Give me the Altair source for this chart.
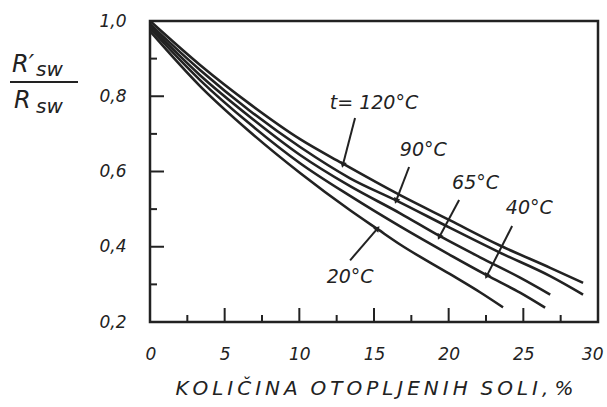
import altair as alt
import pandas as pd
import math

# Resistivity ratio R'sw / Rsw versus dissolved salt content, one curve per temperature
x_120 = [0, 3.35, 6.7, 10.05, 12.86, 16.75, 20.1, 23.4, 26.8, 29.0]
y_120 = [1.0, 0.883, 0.779, 0.686, 0.622, 0.537, 0.470, 0.404, 0.344, 0.304]

x_90 = [0, 3.35, 6.7, 10.05, 13.4, 16.54, 20.1, 23.4, 26.8, 29.0]
y_90 = [0.992, 0.870, 0.761, 0.665, 0.582, 0.522, 0.450, 0.385, 0.322, 0.273]

x_65 = [0, 3.35, 6.7, 10.05, 13.4, 16.75, 19.42, 22.1, 24.78, 26.8]
y_65 = [0.987, 0.856, 0.745, 0.644, 0.561, 0.489, 0.428, 0.372, 0.318, 0.273]

x_40 = [0, 3.35, 6.7, 10.05, 13.4, 16.75, 20.1, 22.57, 24.78, 26.46]
y_40 = [0.981, 0.843, 0.726, 0.622, 0.535, 0.454, 0.378, 0.324, 0.278, 0.238]

x_20 = [0, 3.35, 6.7, 10.05, 13.4, 15.27, 16.75, 20.1, 22.1, 23.64]
y_20 = [0.973, 0.827, 0.705, 0.596, 0.497, 0.446, 0.406, 0.327, 0.279, 0.239]

curve_names = ["120", "90", "65", "40", "20"]
curve_x = [x_120, x_90, x_65, x_40, x_20]
curve_y = [y_120, y_90, y_65, y_40, y_20]

# Curve labels and their leader lines (start -> tip on the curve)
label_text = ["t= 120°C", "90°C", "65°C", "40°C", "20°C"]
label_x = [15.0, 18.3, 21.8, 25.4, 13.4]
label_y = [0.782, 0.657, 0.569, 0.503, 0.319]
lead_x0 = [13.73, 17.35, 20.7, 24.25, 13.4]
lead_y0 = [0.742, 0.612, 0.524, 0.455, 0.364]
lead_x1 = [12.93, 16.5, 19.4, 22.57, 15.2]
lead_y1 = [0.620, 0.524, 0.428, 0.324, 0.447]

# Axis ticks
x_major = [0, 5, 10, 15, 20, 25, 30]
x_minor = [2.5, 7.5, 12.5, 17.5, 22.5, 27.5]
y_major = [0.2, 0.4, 0.6, 0.8, 1.0]
y_minor = [0.3, 0.5, 0.7, 0.9]

# Letter-spaced axis title (thin spaces between letters, wider gaps between words)
WORD_GAP = "\u00a0\u00a0"
x_title = WORD_GAP.join("\u2009".join(w) for w in ["KOLIČINA", "OTOPLJENIH", "SOLI,"]) \
    + "\u00a0%"

W, H = 448, 301
X_DOM, Y_DOM = [0, 30], [0.2, 1.0]
INK = "#222222"
FONT = "DejaVu Sans"

rows = []
for name, xs_, ys_ in zip(curve_names, curve_x, curve_y):
    for xv, yv in zip(xs_, ys_):
        rows.append({"t": name, "x": xv, "y": yv})
curves_df = pd.DataFrame(rows)

xs = alt.Scale(domain=X_DOM, nice=False, zero=False)
ys = alt.Scale(domain=Y_DOM, nice=False, zero=False)

comma = "replace(format(datum.value, '.1f'), '.', ',')"

curves = alt.Chart(curves_df).mark_line(
    color=INK, strokeWidth=2.6, interpolate="monotone"
).encode(
    x=alt.X("x:Q", scale=xs, axis=alt.Axis(
        values=x_major, ticks=False, domain=False, grid=False,
        labelFont=FONT, labelFontSize=17, labelFontStyle="italic",
        labelColor=INK, labelPadding=24, labelFlush=True,
        labelFlushOffset=5,
        title=x_title, titleFont=FONT,
        titleFontSize=20, titleFontStyle="italic", titleFontWeight="normal",
        titleColor=INK, titleY=56, titleBaseline="top")),
    y=alt.Y("y:Q", scale=ys, axis=alt.Axis(
        values=y_major, ticks=False, domain=False, grid=False,
        labelExpr=comma, labelFont=FONT, labelFontSize=17,
        labelFontStyle="italic", labelColor=INK, labelPadding=24,
        labelFlush=False, title=None)),
    detail="t:N",
)

# Inward tick marks drawn from the tick value lists
def yticks(vals, length):
    d = pd.DataFrame({"y": vals})
    return alt.Chart(d).mark_rule(color=INK, strokeWidth=2).encode(
        y=alt.Y("y:Q", scale=ys), x=alt.value(0), x2=alt.value(length))

def xticks(vals, length):
    d = pd.DataFrame({"x": vals})
    return alt.Chart(d).mark_rule(color=INK, strokeWidth=2).encode(
        x=alt.X("x:Q", scale=xs), y=alt.value(H), y2=alt.value(H - length))

ticks = [yticks(y_major[1:-1], 14), yticks(y_minor, 7),
         xticks(x_major[1:-1], 14), xticks(x_minor, 7)]

# Leader lines with arrowheads
px_x = W / (X_DOM[1] - X_DOM[0])
px_y = H / (Y_DOM[1] - Y_DOM[0])
angles = []
for a, b, c, d in zip(lead_x0, lead_y0, lead_x1, lead_y1):
    dx = (c - a) * px_x
    dy = -(d - b) * px_y
    angles.append(math.degrees(math.atan2(dx, -dy)) % 360)

lead_df = pd.DataFrame({"x0": lead_x0, "y0": lead_y0, "x1": lead_x1,
                        "y1": lead_y1, "ang": angles})
leaders = alt.Chart(lead_df).mark_rule(color=INK, strokeWidth=2).encode(
    x=alt.X("x0:Q", scale=xs), y=alt.Y("y0:Q", scale=ys),
    x2="x1:Q", y2="y1:Q")
heads = alt.Chart(lead_df).mark_point(
    shape="triangle", filled=True, color=INK, size=45, opacity=1
).encode(
    x=alt.X("x1:Q", scale=xs), y=alt.Y("y1:Q", scale=ys),
    angle=alt.Angle("ang:Q", scale=None))

lab_df = pd.DataFrame({"x": label_x, "y": label_y, "text": label_text})
labels = alt.Chart(lab_df).mark_text(
    font=FONT, fontSize=19, fontStyle="italic", color=INK
).encode(x=alt.X("x:Q", scale=xs), y=alt.Y("y:Q", scale=ys), text="text:N")

# Y-axis quantity written as a fraction R'sw / Rsw
def ytext(s, px, py, size):
    return alt.Chart(pd.DataFrame({"s": [s]})).mark_text(
        font=FONT, fontSize=size, fontStyle="italic", color=INK,
        align="left", baseline="alphabetic"
    ).encode(x=alt.value(px), y=alt.value(py), text="s:N")

frac = [
    ytext("R′", -138, 51, 24), ytext("sw", -114, 55, 20),
    ytext("R", -136, 87, 24), ytext("sw", -114, 92, 20),
    alt.Chart(pd.DataFrame({"s": [0]})).mark_rule(color=INK, strokeWidth=2).encode(
        x=alt.value(-140), x2=alt.value(-72), y=alt.value(61)),
]

chart = alt.layer(curves, *ticks, leaders, heads, labels, *frac).properties(
    width=W, height=H,
    padding={"left": 150, "top": 21, "right": 9, "bottom": 85},
    autosize="none",
    background="white",
).configure_view(stroke=INK, strokeWidth=2.5)

chart.save("out.html", embed_options={"renderer": "svg", "actions": False})
